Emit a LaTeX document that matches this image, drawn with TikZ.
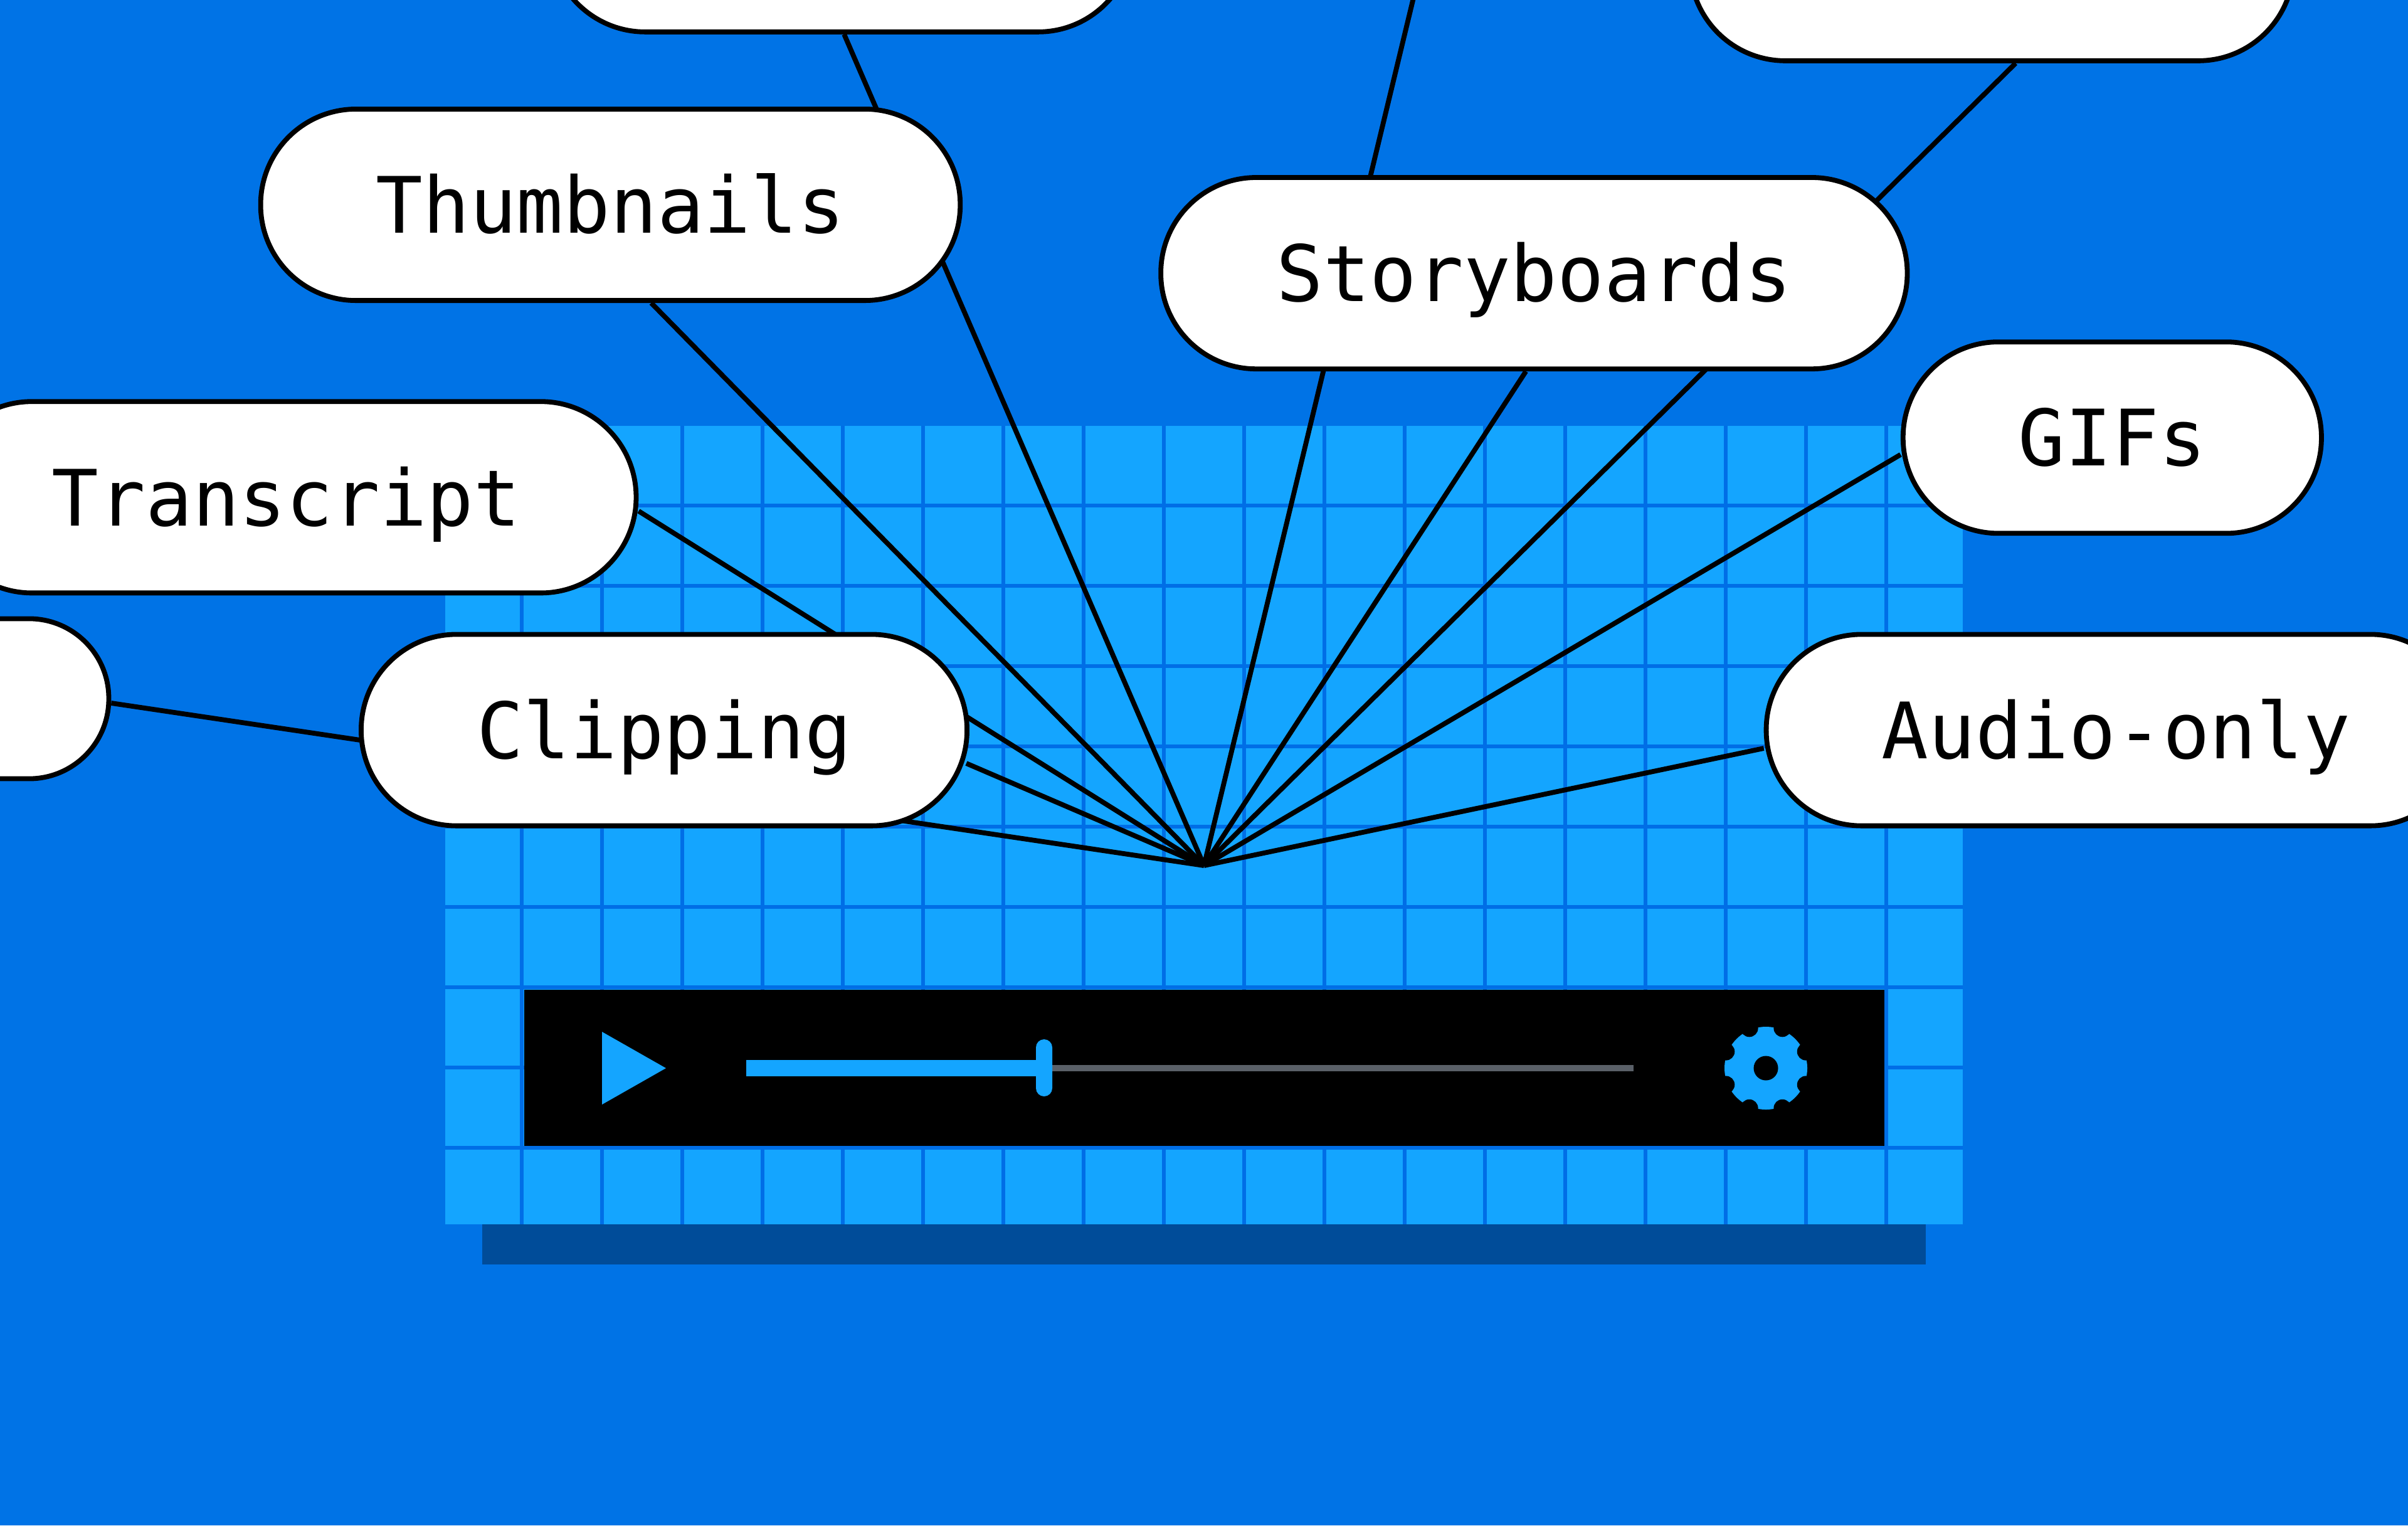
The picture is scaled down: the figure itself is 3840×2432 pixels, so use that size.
\documentclass[tikz,border=0pt]{standalone}
\usepackage{fontspec}
\setmonofont{DejaVu Sans Mono}
\usepackage{tikz}
\usetikzlibrary{positioning}
\usetikzlibrary{backgrounds}
\definecolor{sky}{HTML}{0073E6}
\definecolor{cell}{HTML}{14A5FF}
\definecolor{cellline}{HTML}{006EE6}
\definecolor{deepblue}{HTML}{004C99}
\definecolor{track}{HTML}{5A6068}

\begin{document}
\begin{tikzpicture}[x=.01cm, y=-.01cm, on grid,
       pill/.style={draw=black, fill=white, line width=.078cm, rectangle, rounded corners=1.52cm,
         minimum height=3.05cm, inner xsep=1.84cm, inner ysep=0pt, text height=.904cm, text depth=0pt,
         font=\fontsize{35.3pt}{40pt}\selectfont\ttfamily},
       link/.style={draw=black, line width=.078cm},
       gridline/.style={draw=cellline, line width=.055cm}]

       \useasboundingbox (0,0) rectangle (3840,2432);

       \coordinate (hub) at (1920,1380);
       \node[pill] (Clipping) at (1059,1164) {Clipping};
       \node[pill, above left=3.71cm and 6.02cm of Clipping] (Transcript) {Transcript};
       \node[pill, above right=4.66cm and 5.165cm of Transcript] (Thumbnails) {Thumbnails};
       \node[pill, below right=1.09cm and 14.72cm of Thumbnails] (Storyboards) {Storyboards};
       \node[pill, below right=2.62cm and 9.215cm of Storyboards] (GIFs) {GIFs};
       \node[pill, right=23.14cm of Clipping] (Audio_only) {Audio-only};
       % pills that are cut by the edge of the picture
       \node[pill, inner xsep=0pt, minimum width=4.74cm, minimum height=2.55cm, rounded corners=1.27cm,
         above left=.5cm and 11.22cm of Clipping] (Pill_left) {};
       \node[pill, inner xsep=0pt, minimum width=9.3cm,
         above right=4.28cm and 3.685cm of Thumbnails] (Pill_top_left) {};
       \node[pill, inner xsep=0pt, minimum width=9.62cm,
         above right=4.91cm and 7.295cm of Storyboards] (Pill_top_right) {};
       \coordinate[above right=14cm and 3.38cm of hub] (Off_top);

       \begin{pgfonlayer}{background}
       \fill[sky] (0,0) rectangle (3840,2432);
       \fill[deepblue] (769,1952) rectangle (3071,2016);
       \fill[cell] (710,679) rectangle (3130,1952);
       \foreach \i in {0,...,17} {
         \draw[gridline] (832+128*\i,679) -- (832+128*\i,1952);
       }
       \foreach \i in {0,...,8} {
         \draw[gridline] (710,806+128*\i) -- (3130,806+128*\i);
       }

       % player bar
       \fill[black] (836,1578) rectangle (3005,1827);
       \fill[cell] (960,1645) -- (1062,1703) -- (960,1761) -- cycle;
       \fill[cell] (1190,1690) rectangle (1660,1716);
       \fill[track] (1670,1698) rectangle (2605,1708);
       \fill[cell, rounded corners=.13cm] (1652,1657) rectangle (1678,1748);
       \begin{scope}[shift={(2816,1703)}]
         \fill[cell] (0,0) circle (66);
         \foreach \a in {0,...,7} {
           \fill[black] (22.5+45*\a:69) circle (14);
         }
         \fill[black] (0,0) circle (19.5);
       \end{scope}

       \draw[link] (hub) -- ([xshift=.04cm]Pill_top_left.south);
       \draw[link] (hub) -- ([xshift=.65cm]Thumbnails.south);
       \draw[link] (hub) -- ([yshift=-.22cm]Transcript.east);
       \draw[link] (hub) -- ([yshift=-.07cm]Pill_left.east);
       \draw[link] (hub) -- ([xshift=-.05cm, yshift=-.53cm]Clipping.east);
       \draw[link] (hub) -- (Off_top);
       \draw[link] (hub) -- ([xshift=-.13cm]Storyboards.south);
       \draw[link] (hub) -- ([xshift=.38cm]Pill_top_right.south);
       \draw[link] (hub) -- ([yshift=-.27cm]GIFs.west);
       \draw[link] (hub) -- ([yshift=-.29cm]Audio_only.west);
       \end{pgfonlayer}

\end{tikzpicture}
\end{document}
